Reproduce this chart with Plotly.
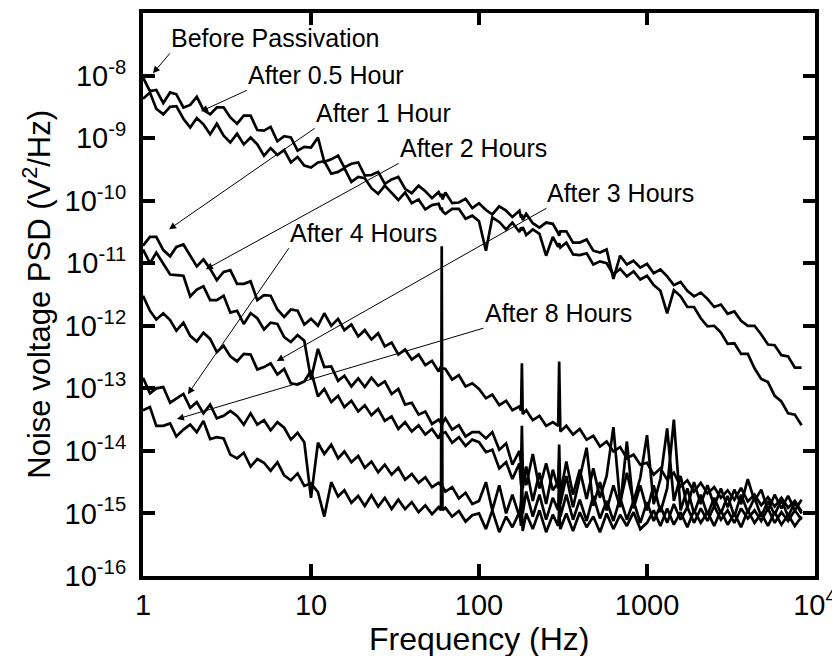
import plotly.graph_objects as go

# Frequency grid (Hz), shared by all spectra
FREQ_HZ = [
    1.00, 1.10, 1.20, 1.32, 1.45, 1.58, 1.74, 1.91, 2.09, 2.29, 2.51, 2.75, 3.02,
    3.31, 3.63, 3.98, 4.37, 4.79, 5.25, 5.75, 6.31, 6.92, 7.59, 8.32, 9.12,
    10.0, 11.0, 12.0, 13.2, 14.5, 15.8, 17.4, 19.1, 20.9, 22.9, 25.1, 27.5, 30.2,
    33.1, 36.3, 39.8, 43.7, 47.9, 52.5, 57.5, 59.4, 60.0, 60.6, 63.1, 69.2, 75.9,
    83.2, 91.2,
    100, 110, 120, 132, 145, 158, 174, 178, 180, 182, 191, 209, 229, 251, 275,
    296, 300, 305, 331, 363, 398, 437, 479, 525, 575, 631, 692, 759, 832, 912,
    1000, 1096, 1202, 1318, 1445, 1585, 1738, 1905, 2089, 2291, 2512, 2754, 3020,
    3311, 3631, 3981, 4365, 4786, 5248, 5754, 6310, 6918, 7586, 8318,
]

# log10 of noise voltage PSD (V^2/Hz)
LOG_BEFORE = [
    -8.03, -8.25, -8.23, -8.44, -8.27, -8.30, -8.51, -8.47, -8.34, -8.55, -8.62, -8.51, -8.51,
    -8.67, -8.77, -8.64, -8.64, -8.87, -8.88, -8.82, -9.05, -8.97, -8.99, -9.20, -9.14,
    -9.15, -8.99, -9.38, -9.34, -9.28, -9.47, -9.41, -9.39, -9.60, -9.59, -9.54, -9.73, -9.66,
    -9.62, -9.81, -9.88, -9.76, -9.85, -9.96, -9.86, -9.94, -9.89, -9.98, -9.87, -10.04,
    -10.03, -9.97, -10.12,
    -10.04, -10.15, -10.22, -10.09, -10.16, -10.26, -10.16, -10.27, -10.22, -10.31, -10.21,
    -10.36, -10.43, -10.35, -10.37, -10.52, -10.56, -10.49, -10.49, -10.67, -10.67, -10.62,
    -10.80, -10.83, -10.78, -11.25, -10.88, -11.02, -10.96, -11.07,
    -11.01, -11.16, -11.10, -11.21, -11.35, -11.30, -11.44, -11.53, -11.47, -11.57, -11.70,
    -11.66, -11.81, -11.77, -11.92, -12.00, -12.00, -12.14, -12.30, -12.31, -12.47, -12.49,
    -12.67, -12.67,
]
LOG_HALF_HOUR = [
    -8.37, -8.27, -8.53, -8.62, -8.50, -8.49, -8.69, -8.83, -8.68, -8.78, -8.94, -8.77, -8.96,
    -9.07, -8.93, -9.10, -8.99, -9.10, -9.28, -9.16, -9.27, -9.19, -9.39, -9.30, -9.44,
    -9.47, -9.39, -9.37, -9.57, -9.54, -9.48, -9.70, -9.62, -9.64, -9.80, -9.89, -9.76, -9.88,
    -9.99, -9.87, -10.04, -9.98, -10.14, -10.07, -10.05, -10.15, -10.11, -10.17, -10.21,
    -10.13, -10.13, -10.29, -10.24,
    -10.33, -10.80, -10.27, -10.34, -10.46, -10.35, -10.50, -10.43, -10.48, -10.42, -10.55,
    -10.46, -10.53, -10.88, -10.58, -10.74, -10.68, -10.75, -10.67, -10.86, -10.87, -10.84,
    -11.02, -10.97, -11.00, -11.18, -11.09, -11.21, -11.13, -11.26,
    -11.20, -11.35, -11.44, -11.80, -11.43, -11.53, -11.70, -11.70, -11.88, -12.01, -12.00,
    -12.11, -12.29, -12.28, -12.45, -12.45, -12.68, -12.85, -12.90, -13.12, -13.21, -13.40,
    -13.42, -13.59,
]
LOG_1_HOUR = [
    -10.72, -10.58, -10.58, -10.79, -10.89, -10.74, -10.70, -10.88, -11.05, -10.94, -11.09,
    -11.27, -11.14, -11.11, -11.33, -11.33, -11.29, -11.59, -11.51, -11.52, -11.74, -11.86,
    -11.74, -11.76, -11.98,
    -11.89, -12.00, -11.80, -12.00, -11.89, -12.07, -11.98, -12.17, -12.07, -12.22, -12.12,
    -12.33, -12.27, -12.46, -12.38, -12.54, -12.46, -12.63, -12.56, -12.73, -12.65, -12.70,
    -12.68, -12.69, -12.86, -12.79, -12.97, -12.92,
    -13.01, -13.16, -13.10, -13.27, -13.20, -13.35, -13.29, -13.36, -12.60, -13.41, -13.35,
    -13.51, -13.44, -13.60, -13.54, -13.60, -12.57, -13.69, -13.60, -13.74, -13.65, -13.82,
    -13.76, -13.93, -13.85, -14.01, -13.94, -14.12, -14.06, -14.22,
    -14.19, -14.38, -14.28, -14.46, -14.35, -14.57, -14.47, -14.65, -14.51, -14.68, -14.58,
    -14.75, -14.63, -14.78, -14.59, -14.81, -14.70, -14.87, -14.74, -14.89, -14.75, -14.91,
    -14.80, -14.97,
]
LOG_2_HOURS = [
    -10.78, -11.00, -10.83, -11.00, -11.18, -11.19, -11.20, -11.53, -11.42, -11.37, -11.59,
    -11.59, -11.52, -11.79, -11.76, -11.97, -11.80, -11.88, -12.06, -11.95, -11.97, -12.18,
    -12.26, -12.15, -12.24,
    -12.85, -12.37, -12.66, -12.65, -12.88, -12.80, -12.97, -12.84, -12.98, -12.83, -12.96,
    -12.89, -13.09, -13.01, -13.26, -13.23, -13.42, -13.37, -13.57, -13.50, -13.55, -13.60,
    -13.56, -13.48, -13.66, -13.59, -13.77, -13.70,
    -13.70, -13.80, -13.70, -13.98, -13.88, -14.22, -14.00, -14.22, -13.60, -14.25, -14.55,
    -14.05, -14.60, -14.20, -14.63, -14.50, -13.90, -14.70, -14.17, -14.70, -14.30, -14.77,
    -14.28, -14.75, -14.40, -13.62, -14.83, -14.35, -14.81, -14.43,
    -13.75, -14.85, -14.45, -13.64, -14.80, -14.40, -14.90, -14.50, -14.85, -14.55, -14.88,
    -14.60, -14.90, -14.62, -14.85, -14.45, -14.80, -14.62, -14.95, -14.70, -14.92, -14.72,
    -14.95, -14.78,
]
LOG_3_HOURS = [
    -11.52, -11.76, -11.90, -11.80, -11.91, -12.08, -11.95, -12.16, -12.25, -12.11, -12.21,
    -12.42, -12.32, -12.49, -12.57, -12.45, -12.46, -12.70, -12.66, -12.60, -12.78, -12.69,
    -12.92, -12.94, -12.89,
    -12.72, -13.13, -13.01, -13.22, -13.12, -13.30, -13.20, -13.37, -13.27, -13.43, -13.33,
    -13.52, -13.45, -13.65, -13.54, -13.69, -13.59, -13.74, -13.65, -13.80, -13.71, -13.76,
    -13.72, -13.70, -13.87, -13.78, -13.92, -13.82,
    -13.86, -14.02, -13.98, -14.28, -14.18, -14.45, -14.20, -14.55, -14.40, -14.60, -14.25,
    -14.80, -14.35, -14.85, -14.30, -14.60, -14.20, -14.85, -14.40, -14.90, -14.45, -13.95,
    -14.88, -14.50, -14.95, -14.55, -14.90, -13.85, -14.92, -14.55,
    -14.95, -14.55, -14.98, -14.60, -13.50, -14.95, -14.60, -15.00, -14.70, -15.02, -14.75,
    -15.00, -14.72, -15.05, -14.70, -14.98, -14.75, -15.05, -14.80, -15.02, -14.78, -15.05,
    -14.82, -15.00,
]
LOG_4_HOURS = [
    -12.83, -13.08, -13.00, -12.98, -13.23, -13.16, -13.09, -13.31, -13.22, -13.40, -13.26,
    -13.48, -13.44, -13.36, -13.44, -13.58, -13.40, -13.58, -13.51, -13.67, -13.54, -13.63,
    -13.82, -13.71, -13.86,
    -14.75, -13.87, -14.05, -13.90, -14.12, -14.01, -14.18, -14.08, -14.27, -14.17, -14.34,
    -14.22, -14.38, -14.27, -14.46, -14.37, -14.51, -14.42, -14.58, -14.51, -14.55, -14.60,
    -14.57, -14.65, -14.58, -14.76, -14.67, -14.85,
    -14.80, -14.50, -14.95, -14.55, -15.00, -14.70, -15.05, -14.80, -14.20, -15.00, -14.65,
    -15.05, -14.70, -15.10, -14.75, -14.95, -14.40, -15.05, -14.70, -15.10, -14.78, -15.12,
    -14.72, -15.08, -14.80, -15.12, -14.75, -15.10, -14.80, -15.15,
    -14.82, -15.12, -14.88, -15.15, -14.85, -15.10, -14.90, -15.15, -14.92, -15.12, -14.88,
    -15.10, -14.95, -15.15, -14.92, -15.08, -14.95, -15.12, -14.92, -15.15, -14.98, -15.12,
    -14.95, -15.10,
]
LOG_8_HOURS = [
    -13.35, -13.30, -13.60, -13.60, -13.56, -13.77, -13.66, -13.58, -13.70, -13.52, -13.81,
    -13.78, -13.80, -14.06, -14.12, -14.03, -14.25, -14.13, -14.19, -14.32, -14.18, -14.39,
    -14.47, -14.36, -14.56,
    -14.52, -14.66, -15.05, -14.50, -14.73, -14.63, -14.83, -14.72, -14.88, -14.71, -14.89,
    -14.75, -14.93, -14.78, -14.93, -14.82, -14.98, -14.87, -15.01, -14.90, -14.95, -10.73,
    -14.95, -14.91, -15.05, -14.96, -15.13, -15.03,
    -15.00, -15.25, -14.95, -15.30, -15.05, -15.22, -14.98, -15.20, -14.90, -15.28, -15.00,
    -15.25, -14.95, -15.30, -15.02, -15.20, -14.95, -15.25, -15.00, -15.28, -14.98, -15.22,
    -15.05, -15.30, -15.00, -15.25, -15.02, -15.20, -14.98, -15.25,
    -15.15, -14.95, -15.20, -14.92, -15.18, -14.98, -15.22, -14.95, -15.15, -14.98, -15.20,
    -14.95, -15.18, -15.00, -15.22, -14.95, -15.15, -15.00, -15.20, -14.98, -15.18, -15.02,
    -15.20, -15.05,
]

SERIES = [
    ('Before Passivation', LOG_BEFORE),
    ('After 0.5 Hour', LOG_HALF_HOUR),
    ('After 1 Hour', LOG_1_HOUR),
    ('After 2 Hours', LOG_2_HOURS),
    ('After 3 Hours', LOG_3_HOURS),
    ('After 4 Hours', LOG_4_HOURS),
    ('After 8 Hours', LOG_8_HOURS),
]

X_TICKS = [1, 10, 100, 1000, 10000]
X_TICK_TEXT = ['1', '10', '100', '1000', '10<sup>4</sup>']
Y_EXPONENTS = [-16, -15, -14, -13, -12, -11, -10, -9, -8]

# label leaders in log10 axis units: (text, tail x, tail y, tip x, tip y);
# the label sits up and to the right of the tail
LABELS = [
    ('Before Passivation', 0.160, -7.645, 0.059, -7.965),
    ('After 0.5 Hour', 0.618, -8.236, 0.345, -8.572),
    ('After 1 Hour', 1.022, -8.843, 0.155, -10.457),
    ('After 2 Hours', 1.522, -9.403, 0.374, -11.096),
    ('After 3 Hours', 2.401, -10.121, 0.796, -12.565),
    ('After 4 Hours', 0.868, -10.760, 0.267, -13.093),
    ('After 8 Hours', 2.027, -12.038, 0.202, -13.492),
]

FONT = 'Liberation Sans, Arial, sans-serif'

for name, logs in SERIES:
    assert len(logs) == len(FREQ_HZ), (name, len(logs), len(FREQ_HZ))


def build_figure():
    fig = go.Figure()

    for name, logs in SERIES:
        fig.add_trace(
            go.Scatter(
                x=FREQ_HZ,
                y=[10 ** v for v in logs],
                mode='lines',
                name=name,
                line=dict(color='black', width=2.7),
                showlegend=False,
            )
        )

    annotations = []
    for text, tx, ty, hx, hy in LABELS:
        annotations.append(dict(
            x=hx, y=hy, xref='x', yref='y', ax=tx, ay=ty, axref='x', ayref='y',
            text=text, showarrow=True, arrowhead=2, arrowsize=1.4, arrowwidth=1,
            arrowcolor='black', standoff=0, startstandoff=0,
            xanchor='left', yanchor='bottom', borderpad=0,
            font=dict(family=FONT, size=25, color='black'),
        ))

    # axis titles placed by hand so the plot frame does not move
    annotations.append(dict(
        x=0.5, y=-0.112, xref='paper', yref='paper', text='Frequency (Hz)',
        showarrow=False, xanchor='center', yanchor='middle',
        font=dict(family=FONT, size=32, color='black'),
    ))
    annotations.append(dict(
        x=-0.159, y=0.5, xref='paper', yref='paper',
        text='Noise voltage PSD (V<sup>2</sup>/Hz)', textangle=-90,
        showarrow=False, xanchor='center', yanchor='middle',
        font=dict(family=FONT, size=31, color='black'),
    ))

    fig.update_xaxes(
        type='log', range=[0, 4], automargin=False,
        tickvals=X_TICKS, ticktext=X_TICK_TEXT,
        ticks='inside', ticklen=12, tickwidth=4, tickcolor='black',
        ticklabelstandoff=0,
        showline=True, linewidth=4, linecolor='black', mirror='ticks',
        showgrid=False, zeroline=False,
        tickfont=dict(family=FONT, size=29, color='black'),
    )
    fig.update_yaxes(
        type='log', range=[-16, -7], automargin=False,
        tickvals=[10 ** e for e in Y_EXPONENTS],
        ticktext=['10<sup>%d</sup>' % e for e in Y_EXPONENTS],
        ticks='inside', ticklen=12, tickwidth=4, tickcolor='black',
        ticklabelstandoff=7,
        showline=True, linewidth=4, linecolor='black', mirror='ticks',
        showgrid=False, zeroline=False,
        tickfont=dict(family=FONT, size=29, color='black'),
    )

    # the page body adds an 8 px offset, so the figure is drawn 8 px smaller
    fig.update_layout(
        width=832, height=648,
        margin=dict(l=135, r=25, t=5, b=80),
        paper_bgcolor='white', plot_bgcolor='white',
        annotations=annotations,
        showlegend=False,
    )
    return fig


if __name__ == '__main__':
    fig = build_figure()
    fig.write_html('out.html')
